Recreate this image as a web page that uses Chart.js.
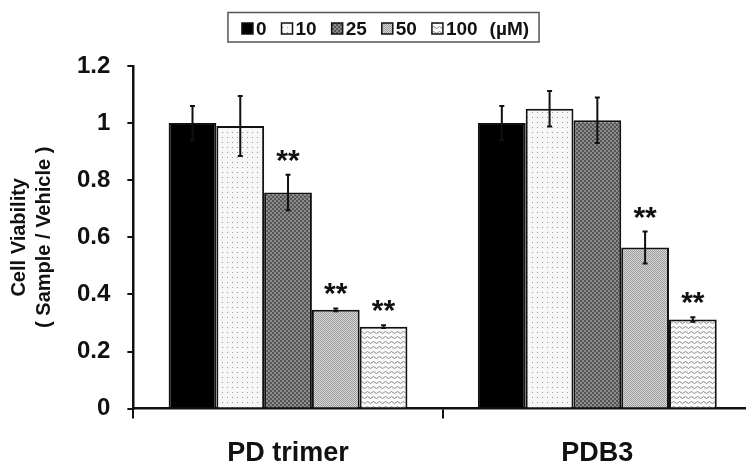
<!DOCTYPE html>
<html>
<head>
<meta charset="utf-8">
<script src="https://cdn.jsdelivr.net/npm/chart.js@4.4.1/dist/chart.umd.min.js"></script>
<style>
  html, body { margin: 0; padding: 0; background: #fff; overflow: hidden; }
  canvas { display: block; }
</style>
</head>
<body>
<canvas id="chart" width="752" height="466"></canvas>
<script>
  // Werte (Mittelwert, Fehler, Signifikanz).
  const groups = ['PD trimer', 'PDB3'];
  const doses = ['0', '10', '25', '50', '100'];
  const doseUnit = '(µM)';

  const meanPD = [1.0, 0.99, 0.757, 0.346, 0.287];
  const meanPDB3 = [1.0, 1.05, 1.01, 0.564, 0.312];
  const errPD = [0.06, 0.105, 0.062, 0.005, 0.005];
  const errPDB3 = [0.06, 0.062, 0.08, 0.056, 0.008];
  const sigPD = [false, false, true, true, true];
  const sigPDB3 = [false, false, false, true, true];

  const yTicks = [0, 0.2, 0.4, 0.6, 0.8, 1, 1.2];

  const FONT = 'Arial, "Liberation Sans", sans-serif';
  const INK = '#111';

  const canvas = document.getElementById('chart');
  const ctx = canvas.getContext('2d');

  // Schraffuren wie im Original (Schwarz, Punkte, dunkles/helles Raster, Wellen).
  function makePattern(kind) {
    if (kind === 'solid') {
      return '#000';
    }
    const c = document.createElement('canvas');
    const g = c.getContext('2d');
    if (kind === 'dots') {
      c.width = 5; c.height = 5;
      g.fillStyle = '#f6f6f6'; g.fillRect(0, 0, 5, 5);
      g.fillStyle = '#9a9a9a'; g.fillRect(2, 2, 1, 1);
    } else if (kind === 'dark') {
      c.width = 4; c.height = 4;
      g.fillStyle = '#8c8c8c'; g.fillRect(0, 0, 4, 4);
      g.fillStyle = '#545454';
      g.fillRect(0, 0, 2, 2); g.fillRect(2, 2, 2, 2);
    } else if (kind === 'light') {
      c.width = 2; c.height = 2;
      g.fillStyle = '#d6d6d6'; g.fillRect(0, 0, 2, 2);
      g.fillStyle = '#9e9e9e';
      g.fillRect(0, 0, 1, 1); g.fillRect(1, 1, 1, 1);
    } else if (kind === 'waves') {
      c.width = 6; c.height = 5;
      g.fillStyle = '#fafafa'; g.fillRect(0, 0, 6, 5);
      g.strokeStyle = '#8a8a8a'; g.lineWidth = 1;
      g.beginPath();
      g.moveTo(0, 2.5); g.lineTo(1.5, 1.5); g.lineTo(3, 2.5);
      g.lineTo(4.5, 3.5); g.lineTo(6, 2.5);
      g.stroke();
    }
    return ctx.createPattern(c, 'repeat');
  }

  const fills = ['solid', 'dots', 'dark', 'light', 'waves'].map(makePattern);

  const datasets = doses.map((dose, i) => ({
    label: dose,
    data: [meanPD[i], meanPDB3[i]],
    err: [errPD[i], errPDB3[i]],
    sig: [sigPD[i], sigPDB3[i]],
    backgroundColor: fills[i],
    borderColor: INK,
    borderWidth: 2,
    categoryPercentage: 0.772,
    barPercentage: 1.0,
  }));

  // Fehlerbalken + Sternchen über den Balken.
  const errorBars = {
    id: 'errorBars',
    afterDatasetsDraw(chart) {
      const c = chart.ctx;
      const y = chart.scales.y;
      c.save();
      chart.data.datasets.forEach((ds, i) => {
        const meta = chart.getDatasetMeta(i);
        meta.data.forEach((bar, j) => {
          const v = ds.data[j];
          const e = ds.err[j];
          const top = y.getPixelForValue(v + e);
          const bottom = y.getPixelForValue(v - e);
          c.strokeStyle = INK;
          c.lineWidth = 2;
          c.beginPath();
          c.moveTo(bar.x, top); c.lineTo(bar.x, bottom);
          c.moveTo(bar.x - 2.5, top); c.lineTo(bar.x + 2.5, top);
          c.moveTo(bar.x - 2.5, bottom); c.lineTo(bar.x + 2.5, bottom);
          c.stroke();
          if (ds.sig[j]) {
            c.fillStyle = INK;
            c.font = 'bold 30px ' + FONT;
            c.textAlign = 'center';
            c.textBaseline = 'alphabetic';
            c.fillText('**', bar.x, top - 5);
          }
        });
      });
      c.restore();
    },
  };

  // Legende mit Rahmen, wie im Original eine Zeile über dem Diagramm.
  const LEGEND_CX = 385.5;
  const LEGEND_CY = 28.5;
  const legendBox = {
    id: 'legendBox',
    afterDraw(chart) {
      const c = chart.ctx;
      c.save();
      c.font = 'bold 19px ' + FONT;
      c.textBaseline = 'middle';
      c.textAlign = 'left';
      const sw = 11, gapText = 3, gapItem = 15, gapUnit = 12;
      const widths = doses.map((d) => sw + gapText + c.measureText(d).width);
      const unitW = c.measureText(doseUnit).width;
      const total = widths.reduce((a, b) => a + b, 0) + gapItem * (doses.length - 1) + gapUnit + unitW;
      let x = LEGEND_CX - total / 2;
      const x0 = x;
      doses.forEach((d, i) => {
        c.fillStyle = chart.data.datasets[i].backgroundColor;
        c.fillRect(x, LEGEND_CY - sw / 2, sw, sw);
        c.strokeStyle = INK;
        c.lineWidth = 1.5;
        c.strokeRect(x, LEGEND_CY - sw / 2, sw, sw);
        c.fillStyle = INK;
        c.fillText(d, x + sw + gapText, LEGEND_CY + 1);
        x += widths[i] + (i < doses.length - 1 ? gapItem : gapUnit);
      });
      c.fillText(doseUnit, x, LEGEND_CY + 1);
      c.strokeStyle = '#555';
      c.lineWidth = 1.5;
      c.strokeRect(x0 - 14, 12.5, total + 24, 29.5);
      c.restore();
    },
  };

  new Chart(canvas, {
    type: 'bar',
    data: { labels: groups, datasets },
    plugins: [errorBars, legendBox],
    options: {
      responsive: false,
      animation: false,
      layout: { padding: { top: 66, bottom: -23, left: 0, right: 0 } },
      plugins: {
        legend: { display: false },
        tooltip: { enabled: false },
      },
      scales: {
        x: {
          grid: {
            offset: true,
            drawOnChartArea: false,
            drawTicks: true,
            tickLength: 10,
            color: INK,
            lineWidth: 2,
          },
          border: { color: INK, width: 2.5 },
          ticks: {
            color: INK,
            padding: 19,
            font: { family: FONT, size: 27, weight: 'bold' },
          },
        },
        y: {
          min: 0,
          max: 1.2,
          afterBuildTicks: (scale) => {
            scale.ticks = yTicks.map((v) => ({ value: v }));
          },
          grid: {
            drawOnChartArea: false,
            tickLength: 6,
            color: INK,
            lineWidth: 2,
          },
          border: { color: INK, width: 2.5 },
          ticks: {
            color: INK,
            padding: 17,
            font: { family: FONT, size: 24, weight: 'bold' },
            callback: (v) => String(Number(v.toFixed(1))),
          },
          title: {
            display: true,
            text: ['Cell Viability', '( Sample / Vehicle )'],
            color: INK,
            font: { family: FONT, size: 20, weight: 'bold', lineHeight: 1.25 },
            padding: { top: 7, bottom: 3 },
          },
        },
      },
    },
  });
</script>
</body>
</html>
